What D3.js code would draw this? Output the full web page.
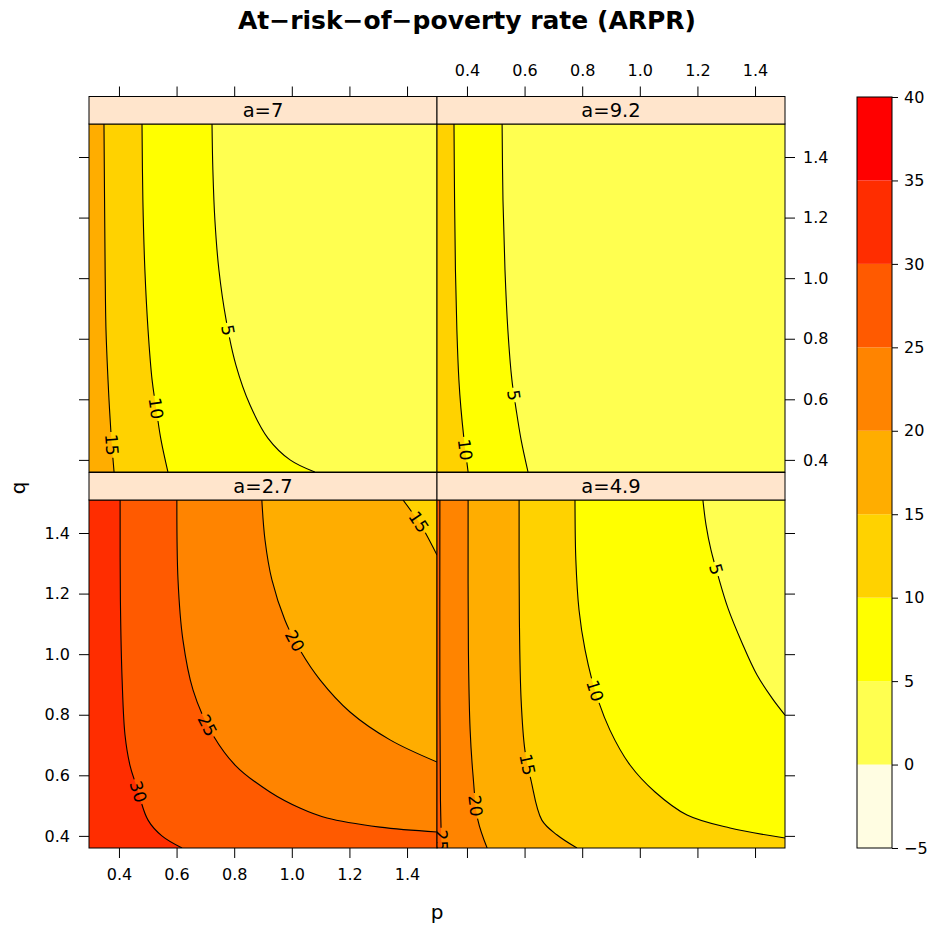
<!DOCTYPE html>
<html><head><meta charset="utf-8">
<script src="https://cdn.jsdelivr.net/npm/d3@7"></script>
<style>body{margin:0;background:#fff} text{font-family:"DejaVu Sans",sans-serif}</style>
</head><body><svg id="c" width="935" height="929"></svg>
<script>
// ---------- data ----------
const levels = [-5, 0, 5, 10, 15, 20, 25, 30, 35, 40];
const bandColors = ["#FFFDE2", "#FFFF50", "#FFFF00", "#FFD200", "#FFAD00", "#FF8400", "#FF5A00", "#FF2D00", "#FF0000"];
const pTicks = [0.4, 0.6, 0.8, 1.0, 1.2, 1.4];
const qTicks = [0.4, 0.6, 0.8, 1.0, 1.2, 1.4];
const pDom = [0.296, 1.504];
const qDom = [0.36, 1.509];
const panelNames = ["a=7", "a=9.2", "a=2.7", "a=4.9"];

// contour lines, [p, q] pairs
const a7_15 = [[0.348,1.509],[0.350,1.258],[0.352,1.027],[0.355,0.829],[0.362,0.664],[0.367,0.571],[0.374,0.466],[0.383,0.36]];
const a7_10 = [[0.480,1.509],[0.483,1.258],[0.490,1.027],[0.501,0.829],[0.515,0.664],[0.529,0.571],[0.546,0.466],[0.570,0.36]];
const a7_5  = [[0.723,1.509],[0.726,1.357],[0.733,1.192],[0.747,1.027],[0.772,0.862],[0.806,0.713],[0.855,0.581],[0.917,0.472],[0.994,0.400],[1.080,0.36]];

const a92_10 = [[0.355,1.509],[0.357,1.258],[0.360,1.027],[0.365,0.829],[0.372,0.664],[0.379,0.571],[0.390,0.466],[0.404,0.36]];
const a92_5  = [[0.522,1.509],[0.525,1.258],[0.532,1.027],[0.542,0.829],[0.556,0.664],[0.570,0.571],[0.588,0.466],[0.612,0.36]];

const a27_30 = [[0.404,1.509],[0.405,1.179],[0.411,0.915],[0.421,0.733],[0.438,0.634],[0.463,0.558],[0.501,0.452],[0.549,0.400],[0.619,0.36]];
const a27_25 = [[0.601,1.509],[0.605,1.245],[0.622,1.047],[0.657,0.882],[0.716,0.750],[0.803,0.634],[0.924,0.545],[1.028,0.492],[1.122,0.459],[1.306,0.429],[1.504,0.413]];
const a27_20 = [[0.896,1.509],[0.907,1.377],[0.931,1.245],[0.976,1.113],[1.028,1.014],[1.098,0.915],[1.202,0.809],[1.341,0.717],[1.504,0.644]];
const a27_15 = [[1.386,1.509],[1.417,1.469],[1.452,1.420],[1.504,1.327]];

const a49_25 = [[0.306,1.509],[0.306,0.849],[0.308,0.518],[0.312,0.36]];
const a49_20 = [[0.404,1.509],[0.405,1.014],[0.411,0.750],[0.421,0.601],[0.438,0.452],[0.470,0.36]];
const a49_15 = [[0.581,1.509],[0.582,1.113],[0.588,0.849],[0.601,0.684],[0.622,0.585],[0.660,0.452],[0.713,0.403],[0.782,0.36]];
const a49_10 = [[0.775,1.509],[0.778,1.311],[0.789,1.146],[0.810,1.014],[0.844,0.882],[0.896,0.750],[0.966,0.634],[1.053,0.545],[1.164,0.469],[1.313,0.426],[1.504,0.393]];
const a49_5  = [[1.219,1.509],[1.230,1.426],[1.247,1.344],[1.271,1.261],[1.306,1.152],[1.355,1.037],[1.407,0.931],[1.459,0.855],[1.504,0.799]];

// approximate label spots on each line [p, q]
const labelSpots = {
  "a=7":   {15:[0.374,0.449], 10:[0.531,0.571], 5:[0.785,0.829]},
  "a=9.2": {10:[0.393,0.433], 5:[0.567,0.614]},
  "a=2.7": {30:[0.483,0.551], 25:[0.709,0.766], 20:[1.018,1.047], 15:[1.452,1.443]},
  "a=4.9": {25:[0.310,0.385], 20:[0.43,0.50], 15:[0.601,0.634], 10:[0.851,0.882], 5:[1.278,1.284]}
};
const panelLines = {
  "a=7":   [[15,a7_15],[10,a7_10],[5,a7_5]],
  "a=9.2": [[10,a92_10],[5,a92_5]],
  "a=2.7": [[30,a27_30],[25,a27_25],[20,a27_20],[15,a27_15]],
  "a=4.9": [[25,a49_25],[20,a49_20],[15,a49_15],[10,a49_10],[5,a49_5]]
};

// ---------- drawing ----------
const svg = d3.select("#c");
const W = 348, H = 348, L0 = 89, T0 = 124, ROWSTEP = 376, STRIP = 27.5;
const x = d3.scaleLinear().domain(pDom).range([0, W]);
const y = d3.scaleLinear().domain(qDom).range([H, 0]);
const line = d3.line().x(d => x(d[0])).y(d => y(d[1])).curve(d3.curveCatmullRom.alpha(0.5));
const colorOf = lv => bandColors[levels.indexOf(lv)];
const FONT = 16, FAM = '"DejaVu Sans",sans-serif';

svg.append("text").attr("x", 467).attr("y", 20).attr("dy", "0.36em").attr("text-anchor", "middle")
  .attr("font-size", 25).attr("font-weight", "bold").text("At\u2212risk\u2212of\u2212poverty rate (ARPR)");

const layout = {"a=7":[0,0], "a=9.2":[1,0], "a=2.7":[0,1], "a=4.9":[1,1]};

panelNames.forEach((name, i) => {
  const [col, row] = layout[name];
  const x0 = L0 + col * W, y0 = T0 + row * ROWSTEP;
  const g = svg.append("g").attr("transform", `translate(${x0},${y0})`);
  const clipId = "clip" + i;
  g.append("clipPath").attr("id", clipId).append("rect").attr("width", W).attr("height", H);
  const gc = g.append("g").attr("clip-path", `url(#${clipId})`);
  const cs = panelLines[name].map(([level, pts]) => ({level, pts, label: labelSpots[name][level]}))
    .sort((a, b) => b.level - a.level);
  gc.append("rect").attr("width", W).attr("height", H).attr("fill", colorOf(cs[0].level));
  cs.forEach(c => {
    const last = c.pts[c.pts.length - 1];
    const corners = [];
    if (last[1] <= qDom[0] + 1e-6) corners.push([pDom[1], qDom[0]]);
    corners.push([pDom[1], qDom[1]]);
    const d = line(c.pts) + corners.map(k => `L${x(k[0])},${y(k[1])}`).join("") + "Z";
    gc.append("path").attr("d", d).attr("fill", colorOf(c.level - 5));
  });
  cs.forEach(c => {
    const path = gc.append("path").attr("d", line(c.pts)).attr("fill", "none")
      .attr("stroke", "#000").attr("stroke-width", 1.1);
    const node = path.node(), Ltot = node.getTotalLength();
    const tx = x(c.label[0]), ty = y(c.label[1]);
    let best = 0, bd = 1e12;
    for (let s = 0; s <= Ltot; s += 0.5) {
      const pt = node.getPointAtLength(s);
      const dd = (pt.x - tx) ** 2 + (pt.y - ty) ** 2;
      if (dd < bd) { bd = dd; best = s; }
    }
    const p1 = node.getPointAtLength(Math.max(0, best - 4)), p2 = node.getPointAtLength(Math.min(Ltot, best + 4));
    let ang = Math.atan2(p2.y - p1.y, p2.x - p1.x) * 180 / Math.PI;
    if (ang > 90) ang -= 180; if (ang < -90) ang += 180;
    const pc = node.getPointAtLength(best);
    const txt = gc.append("text").attr("transform", `translate(${pc.x},${pc.y}) rotate(${ang})`)
      .attr("text-anchor", "middle").attr("dy", "0.36em").attr("font-size", 17).text(c.level);
    const tw = txt.node().getComputedTextLength() + 4;
    path.attr("stroke-dasharray", `${Math.max(0, best - tw / 2)} ${tw} ${Ltot}`);
  });
  g.append("rect").attr("width", W).attr("height", H).attr("fill", "none").attr("stroke", "#000");
  g.append("rect").attr("y", -STRIP).attr("width", W).attr("height", STRIP)
    .attr("fill", "#FFE5CC").attr("stroke", "#000");
  g.append("text").attr("x", W / 2).attr("y", -STRIP / 2).attr("dy", "0.36em").attr("text-anchor", "middle")
    .attr("font-size", 19.5).text(name);

  // axes (alternating, as lattice)
  const fmt = d3.format(".1f");
  const styleAxis = sel => {
    sel.select(".domain").remove();
    sel.selectAll(".tick line").attr("stroke", "#000");
    sel.selectAll(".tick text").attr("font-size", FONT).attr("fill", "#000").attr("font-family", FAM);
  };
  if (row === 0) {
    g.append("g").attr("transform", `translate(0,${-STRIP})`)
      .call(d3.axisTop(x).tickValues(pTicks).tickSize(10).tickPadding(11).tickFormat(col === 1 ? fmt : () => ""))
      .call(styleAxis);
  } else {
    g.append("g").attr("transform", `translate(0,${H})`)
      .call(d3.axisBottom(x).tickValues(pTicks).tickSize(10).tickPadding(11).tickFormat(col === 0 ? fmt : () => ""))
      .call(styleAxis);
  }
  if (col === 0) {
    g.append("g")
      .call(d3.axisLeft(y).tickValues(qTicks).tickSize(10).tickPadding(9).tickFormat(row === 1 ? fmt : () => ""))
      .call(styleAxis);
  } else {
    g.append("g").attr("transform", `translate(${W},0)`)
      .call(d3.axisRight(y).tickValues(qTicks).tickSize(10).tickPadding(8).tickFormat(row === 0 ? fmt : () => ""))
      .call(styleAxis);
  }
});

svg.append("text").attr("x", L0 + W).attr("y", 912).attr("dy", "0.36em").attr("text-anchor", "middle")
  .attr("font-size", 20).text("p");
svg.append("text").attr("transform", "translate(18,488) rotate(-90)").attr("dy", "0.36em")
  .attr("text-anchor", "middle").attr("font-size", 20).text("q");

// colour key
const cb = svg.append("g").attr("transform", "translate(857,0)");
const cs = d3.scaleLinear().domain([levels[0], levels[levels.length - 1]]).range([848, 97]);
const CBW = 35;
cb.selectAll("rect.band").data(d3.range(levels.length - 1)).join("rect").attr("class", "band")
  .attr("x", 0).attr("width", CBW)
  .attr("y", k => cs(levels[k + 1])).attr("height", k => cs(levels[k]) - cs(levels[k + 1]))
  .attr("fill", k => bandColors[k]);
cb.append("rect").attr("x", 0).attr("y", cs(levels[levels.length - 1])).attr("width", CBW)
  .attr("height", cs(levels[0]) - cs(levels[levels.length - 1])).attr("fill", "none").attr("stroke", "#000");
cb.append("g").attr("transform", `translate(${CBW},0)`)
  .call(d3.axisRight(cs).tickValues(levels).tickSize(6).tickPadding(6))
  .call(sel => {
    sel.select(".domain").remove();
    sel.selectAll(".tick line").attr("stroke", "#000");
    sel.selectAll(".tick text").attr("font-size", FONT).attr("fill", "#000").attr("font-family", FAM);
  });
</script>
</body></html>
